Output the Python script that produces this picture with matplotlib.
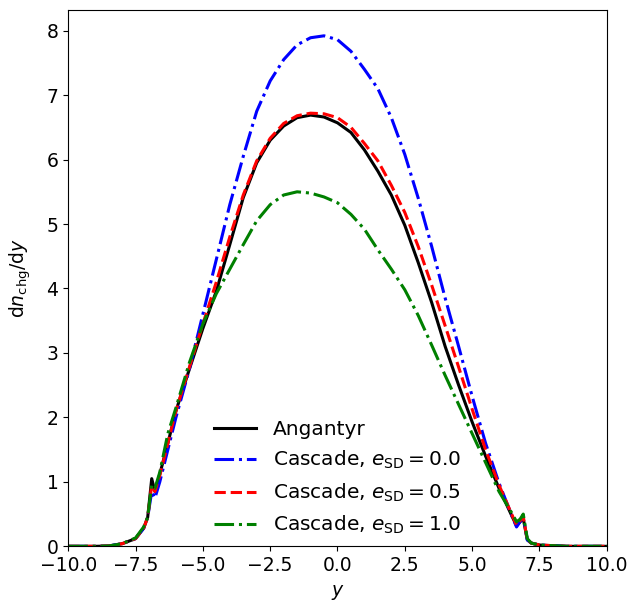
import matplotlib
matplotlib.use('Agg')
import matplotlib.pyplot as plt

# rapidity grid
y_vals = [-10, -9, -8.5, -8, -7.5, -7.2, -7.05, -6.9, -6.78, -6.6, -6.3, -6.0, -5.5, -5.0,
          -4.5, -4.0, -3.5, -3.0, -2.5, -2.0, -1.5, -1.0, -0.5, 0.0, 0.5, 1.0, 1.5, 2.0,
          2.5, 3.0, 3.5, 4.0, 4.5, 5.0, 5.5, 6.0, 6.5, 6.65, 6.78, 6.9, 7.05, 7.2, 7.5,
          8.0, 8.5, 9.0, 10.0]

angantyr = [0, 0, 0.005, 0.04, 0.12, 0.28, 0.45, 1.05, 0.85, 1.12, 1.6, 2.1, 2.75, 3.38,
            3.96, 4.68, 5.41, 5.95, 6.3, 6.52, 6.65, 6.69, 6.66, 6.57, 6.42, 6.15, 5.82, 5.45,
            4.98, 4.4, 3.78, 3.1, 2.5, 1.93, 1.4, 0.9, 0.45, 0.32, 0.38, 0.43, 0.1, 0.05, 0.02,
            0.01, 0, 0, 0]

cascade_00 = [0, 0, 0.005, 0.04, 0.12, 0.28, 0.45, 0.85, 0.75, 1.0, 1.5, 2.0, 2.75, 3.6,
              4.45, 5.3, 6.05, 6.75, 7.22, 7.55, 7.78, 7.89, 7.92, 7.86, 7.68, 7.4, 7.1, 6.65,
              6.08, 5.4, 4.65, 3.85, 3.1, 2.33, 1.6, 0.98, 0.45, 0.3, 0.38, 0.45, 0.1, 0.05, 0.02,
              0.01, 0, 0, 0]

cascade_05 = [0, 0, 0.005, 0.04, 0.12, 0.28, 0.45, 0.95, 0.85, 1.1, 1.6, 2.1, 2.78, 3.45,
              4.1, 4.8, 5.45, 5.98, 6.33, 6.56, 6.68, 6.72, 6.71, 6.65, 6.5, 6.25, 5.98, 5.6,
              5.18, 4.65, 4.05, 3.42, 2.78, 2.13, 1.5, 0.95, 0.47, 0.33, 0.4, 0.46, 0.1, 0.05, 0.02,
              0.01, 0, 0, 0]

cascade_10 = [0, 0, 0.005, 0.04, 0.13, 0.3, 0.45, 0.95, 0.9, 1.15, 1.75, 2.15, 2.85, 3.45,
              3.92, 4.3, 4.68, 5.05, 5.3, 5.45, 5.5, 5.48, 5.42, 5.33, 5.15, 4.92, 4.6, 4.3,
              3.98, 3.58, 3.12, 2.65, 2.2, 1.75, 1.3, 0.85, 0.5, 0.38, 0.42, 0.5, 0.12, 0.05, 0.02,
              0.01, 0, 0, 0]

plt.rcParams['font.size'] = 13.5

fig, ax = plt.subplots(figsize=(6.32, 6.05), dpi=100)
fig.subplots_adjust(left=0.108, right=0.960, top=0.983, bottom=0.097)

ax.plot(y_vals, angantyr, color='black', lw=2.2, ls='-', label='Angantyr')
ax.plot(y_vals, cascade_00, color='blue', lw=2.2, ls='-.', label=r'Cascade, $e_\mathrm{SD} = 0.0$')
ax.plot(y_vals, cascade_05, color='red', lw=2.2, ls='--', label=r'Cascade, $e_\mathrm{SD} = 0.5$')
ax.plot(y_vals, cascade_10, color='green', lw=2.2, ls='-.', label=r'Cascade, $e_\mathrm{SD} = 1.0$')

ax.set_xlim(-10, 10)
ax.set_ylim(bottom=0)
ax.set_xlabel(r'$y$', labelpad=6)
ax.set_ylabel(r'$\mathrm{d}n_\mathrm{chg}/\mathrm{d}y$', labelpad=10)
ax.legend(loc='lower center', frameon=False, fontsize=14.5, handlelength=2.1,
          bbox_to_anchor=(0.5, -0.015))

plt.savefig('out.png')
plt.close()
